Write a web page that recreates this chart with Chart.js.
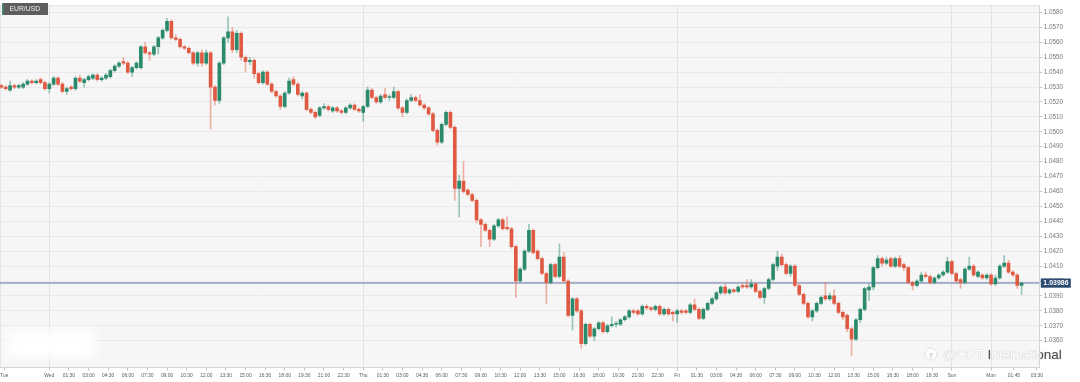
<!DOCTYPE html>
<html>
<head>
<meta charset="utf-8">
<style>
html,body{margin:0;padding:0;background:#fff;}
#wrap{width:1080px;height:382px;position:relative;}
canvas{display:block;}
</style>
<script src="https://cdn.jsdelivr.net/npm/chart.js@4.4.1/dist/chart.umd.min.js"></script>
</head>
<body>
<div id="wrap"><canvas id="c" width="1080" height="382"></canvas></div>
<script>
// ---- Data (EUR/USD, 20-minute candles) ----
const symbol = 'EUR/USD';
const lastPrice = 1.03986;

const openP = [
1.0531,1.0530,1.0528,1.0531,1.0530,1.0530,1.0532,1.0534,1.0533,1.0535,
1.0533,1.0529,1.0532,1.0536,1.0532,1.0527,1.0530,1.0529,1.0536,1.0533,
1.0535,1.0536,1.0538,1.0535,1.0536,1.0537,1.0541,1.0544,1.0547,1.0546,
1.0540,1.0543,1.0543,1.0557,1.0553,1.0552,1.0557,1.0563,1.0568,1.0574,
1.0563,1.0562,1.0557,1.0556,1.0553,1.0546,1.0553,1.0546,1.0553,1.0530,
1.0521,1.0546,1.0563,1.0567,1.0555,1.0566,1.0550,1.0547,1.0548,1.0539,
1.0533,1.0540,1.0532,1.0527,1.0524,1.0517,1.0526,1.0535,1.0532,1.0524,
1.0526,1.0515,1.0513,1.0511,1.0516,1.0517,1.0514,1.0516,1.0514,1.0513,
1.0516,1.0518,1.0515,1.0513,1.0517,1.0528,1.0523,1.0520,1.0525,1.0523,
1.0523,1.0527,1.0516,1.0513,1.0521,1.0523,1.0521,1.0518,1.0516,1.0512,
1.0501,1.0493,1.0505,1.0513,1.0503,1.0462,1.0467,1.0461,1.0458,1.0454,
1.0441,1.0438,1.0434,1.0428,1.0437,1.0441,1.0436,1.0435,1.0423,1.0400,
1.0408,1.0420,1.0434,1.0420,1.0415,1.0405,1.0399,1.0411,1.0403,1.0416,
1.0400,1.0377,1.0388,1.0380,1.0358,1.0371,1.0363,1.0368,1.0372,1.0366,
1.0370,1.0371,1.0371,1.0374,1.0376,1.0380,1.0380,1.0378,1.0383,1.0382,
1.0381,1.0383,1.0378,1.0381,1.0379,1.0378,1.0380,1.0380,1.0379,1.0384,
1.0381,1.0375,1.0381,1.0385,1.0388,1.0392,1.0396,1.0392,1.0394,1.0393,
1.0397,1.0397,1.0396,1.0398,1.0393,1.0389,1.0395,1.0401,1.0410,1.0416,
1.0411,1.0405,1.0410,1.0397,1.0391,1.0385,1.0376,1.0380,1.0385,1.0390,
1.0388,1.0390,1.0385,1.0379,1.0377,1.0368,1.0361,1.0374,1.0381,1.0394,
1.0396,1.0409,1.0415,1.0412,1.0415,1.0410,1.0415,1.0411,1.0409,1.0399,
1.0397,1.0400,1.0404,1.0403,1.0399,1.0402,1.0404,1.0406,1.0413,1.0405,
1.0401,1.0399,1.0408,1.0410,1.0403,1.0404,1.0402,1.0404,1.0398,1.0402,
1.0410,1.0412,1.0406,1.0404,1.0397];

const highP = [
1.0532,1.0531,1.0534,1.0532,1.0532,1.0533,1.0535,1.0535,1.0535,1.0536,
1.0534,1.0533,1.0537,1.0537,1.0533,1.0530,1.0531,1.0537,1.0538,1.0536,
1.0538,1.0539,1.0539,1.0537,1.0539,1.0542,1.0545,1.0547,1.0550,1.0547,
1.0544,1.0547,1.0558,1.0560,1.0554,1.0558,1.0564,1.0569,1.0576,1.0575,
1.0565,1.0563,1.0558,1.0557,1.0554,1.0554,1.0555,1.0555,1.0554,1.0531,
1.0547,1.0564,1.0577,1.0570,1.0568,1.0567,1.0551,1.0550,1.0549,1.0540,
1.0541,1.0541,1.0533,1.0528,1.0525,1.0527,1.0536,1.0537,1.0533,1.0527,
1.0527,1.0516,1.0514,1.0517,1.0519,1.0518,1.0517,1.0517,1.0515,1.0517,
1.0519,1.0519,1.0516,1.0518,1.0530,1.0529,1.0524,1.0525,1.0529,1.0525,
1.0530,1.0528,1.0517,1.0522,1.0525,1.0524,1.0525,1.0519,1.0517,1.0513,
1.0502,1.0506,1.0514,1.0514,1.0504,1.0471,1.0480,1.0462,1.0459,1.0455,
1.0442,1.0439,1.0435,1.0438,1.0442,1.0442,1.0443,1.0436,1.0424,1.0409,
1.0421,1.0438,1.0435,1.0421,1.0416,1.0406,1.0412,1.0412,1.0425,1.0419,
1.0401,1.0389,1.0389,1.0381,1.0372,1.0372,1.0369,1.0373,1.0373,1.0371,
1.0376,1.0373,1.0375,1.0377,1.0381,1.0381,1.0381,1.0384,1.0384,1.0383,
1.0384,1.0384,1.0382,1.0382,1.0380,1.0381,1.0381,1.0381,1.0385,1.0388,
1.0382,1.0382,1.0386,1.0389,1.0393,1.0397,1.0398,1.0395,1.0395,1.0397,
1.0398,1.0401,1.0401,1.0399,1.0394,1.0396,1.0402,1.0412,1.0420,1.0418,
1.0412,1.0411,1.0411,1.0398,1.0392,1.0386,1.0381,1.0386,1.0390,1.0399,
1.0392,1.0394,1.0386,1.0380,1.0378,1.0369,1.0375,1.0382,1.0396,1.0398,
1.0410,1.0417,1.0416,1.0416,1.0416,1.0416,1.0417,1.0412,1.0410,1.0400,
1.0401,1.0406,1.0406,1.0404,1.0403,1.0405,1.0407,1.0416,1.0414,1.0406,
1.0402,1.0409,1.0416,1.0411,1.0407,1.0405,1.0405,1.0405,1.0404,1.0411,
1.0417,1.0414,1.0407,1.0405,1.0399];

const lowP = [
1.0529,1.0528,1.0527,1.0529,1.0529,1.0529,1.0531,1.0532,1.0532,1.0532,
1.0528,1.0526,1.0531,1.0531,1.0526,1.0525,1.0528,1.0528,1.0533,1.0530,
1.0534,1.0535,1.0534,1.0534,1.0535,1.0536,1.0540,1.0543,1.0545,1.0539,
1.0537,1.0542,1.0542,1.0552,1.0548,1.0551,1.0552,1.0562,1.0567,1.0562,
1.0561,1.0556,1.0555,1.0552,1.0545,1.0544,1.0544,1.0545,1.0502,1.0518,
1.0519,1.0545,1.0560,1.0553,1.0553,1.0548,1.0540,1.0545,1.0536,1.0532,
1.0532,1.0531,1.0526,1.0523,1.0515,1.0516,1.0525,1.0531,1.0524,1.0522,
1.0514,1.0512,1.0509,1.0510,1.0515,1.0514,1.0513,1.0513,1.0512,1.0512,
1.0515,1.0514,1.0513,1.0507,1.0516,1.0522,1.0519,1.0519,1.0522,1.0521,
1.0522,1.0515,1.0510,1.0512,1.0520,1.0520,1.0517,1.0515,1.0511,1.0500,
1.0491,1.0492,1.0504,1.0502,1.0454,1.0443,1.0459,1.0457,1.0453,1.0439,
1.0423,1.0433,1.0423,1.0427,1.0436,1.0434,1.0434,1.0422,1.0389,1.0399,
1.0407,1.0419,1.0418,1.0414,1.0404,1.0385,1.0398,1.0402,1.0402,1.0399,
1.0376,1.0367,1.0379,1.0355,1.0357,1.0362,1.0360,1.0367,1.0365,1.0365,
1.0369,1.0369,1.0370,1.0373,1.0375,1.0378,1.0377,1.0377,1.0381,1.0380,
1.0380,1.0377,1.0377,1.0377,1.0373,1.0372,1.0378,1.0378,1.0378,1.0380,
1.0374,1.0374,1.0380,1.0384,1.0387,1.0391,1.0391,1.0391,1.0392,1.0392,
1.0395,1.0395,1.0395,1.0392,1.0388,1.0385,1.0394,1.0400,1.0407,1.0410,
1.0404,1.0403,1.0396,1.0390,1.0384,1.0375,1.0373,1.0379,1.0384,1.0387,
1.0387,1.0384,1.0378,1.0374,1.0366,1.0350,1.0360,1.0372,1.0380,1.0387,
1.0394,1.0408,1.0410,1.0411,1.0409,1.0409,1.0409,1.0407,1.0398,1.0394,
1.0396,1.0399,1.0402,1.0398,1.0398,1.0401,1.0403,1.0405,1.0404,1.0399,
1.0395,1.0398,1.0407,1.0403,1.0402,1.0401,1.0401,1.0397,1.0397,1.0401,
1.0409,1.0405,1.0403,1.0395,1.0391];

const closeP = [
1.0530,1.0529,1.0531,1.0530,1.0531,1.0532,1.0534,1.0533,1.0534,1.0533,
1.0529,1.0532,1.0536,1.0532,1.0527,1.0529,1.0529,1.0536,1.0534,1.0535,
1.0537,1.0538,1.0535,1.0536,1.0538,1.0541,1.0544,1.0546,1.0546,1.0540,
1.0543,1.0546,1.0557,1.0553,1.0552,1.0557,1.0563,1.0568,1.0574,1.0563,
1.0562,1.0557,1.0556,1.0553,1.0546,1.0553,1.0546,1.0553,1.0530,1.0521,
1.0546,1.0563,1.0567,1.0555,1.0566,1.0550,1.0547,1.0548,1.0539,1.0533,
1.0540,1.0532,1.0527,1.0524,1.0517,1.0526,1.0534,1.0532,1.0525,1.0526,
1.0515,1.0513,1.0510,1.0516,1.0517,1.0515,1.0516,1.0514,1.0513,1.0516,
1.0518,1.0515,1.0514,1.0517,1.0528,1.0523,1.0520,1.0524,1.0523,1.05232,
1.0527,1.0516,1.0513,1.0521,1.0523,1.0521,1.0518,1.0516,1.0512,1.0501,
1.0493,1.0505,1.0513,1.0503,1.0462,1.0467,1.0460,1.0458,1.0454,1.0441,
1.0438,1.0434,1.0428,1.0437,1.0441,1.0435,1.0435,1.0423,1.0400,1.0408,
1.0420,1.0434,1.0419,1.0415,1.0405,1.0399,1.0411,1.0403,1.0416,1.0400,
1.0377,1.0388,1.0380,1.0358,1.0371,1.0363,1.0368,1.0372,1.0366,1.0370,
1.0371,1.03712,1.0374,1.0376,1.0380,1.0379,1.0378,1.0383,1.0382,1.0381,
1.0383,1.0378,1.0381,1.0378,1.0378,1.0380,1.0379,1.0379,1.0384,1.0381,
1.0375,1.0381,1.0385,1.0388,1.0392,1.0396,1.0392,1.0394,1.0393,1.0396,
1.0396,1.0396,1.0398,1.0393,1.0389,1.0395,1.0401,1.0411,1.0416,1.0411,
1.0405,1.0410,1.0397,1.0391,1.0385,1.0376,1.0380,1.0385,1.0389,1.0388,
1.0390,1.0385,1.0379,1.0376,1.0368,1.0361,1.0374,1.0381,1.0395,1.0396,
1.0409,1.0415,1.0412,1.0414,1.0410,1.0415,1.0410,1.0409,1.0399,1.0397,
1.0400,1.0404,1.0403,1.0399,1.0402,1.0404,1.0406,1.0413,1.0405,1.0400,
1.0399,1.0408,1.0410,1.0404,1.0406,1.0402,1.0404,1.0398,1.0402,1.0410,
1.0412,1.0406,1.0404,1.0397,1.03986];

// price axis ticks
const yTicks = [1.0360,1.0370,1.0380,1.0390,1.0400,1.0410,1.0420,1.0430,1.0440,1.0450,1.0460,
                1.0470,1.0480,1.0490,1.0500,1.0510,1.0520,1.0530,1.0540,1.0550,1.0560,1.0570,1.0580];

// time axis ticks: candle-slot position and label
const xTickIndex = [0.7, 11, 15.5, 20, 24.5, 29, 33.5, 38, 42.5, 47, 51.5, 56, 60.5, 65, 69.5, 74, 78.5,
  83, 87.5, 92, 96.5, 101, 105.5, 110, 114.5, 119, 123.5, 128, 132.5, 137, 141.5, 146, 150.5,
  155, 159.5, 164, 168.5, 173, 177.5, 182, 186.5, 191, 195.5, 200, 204.5, 209, 213.5,
  218, 227, 232.25, 237.5];
const xTickLabels = ['Tue','Wed','01:30','03:00','04:30','06:00','07:30','09:00','10:30','12:00','13:30','15:00','16:30','18:00','19:30','21:00','22:30',
  'Thu','01:30','03:00','04:30','06:00','07:30','09:00','10:30','12:00','13:30','15:00','16:30','18:00','19:30','21:00','22:30',
  'Fri','01:30','03:00','04:30','06:00','07:30','09:00','10:30','12:00','13:30','15:00','16:30','18:00','19:30',
  'Sun','Mon','01:45','03:30'];
const dayLabels = ['Wed','Thu','Fri','Sun','Mon'];
const watermark = '@CPT International';

// ---- styles ----
const GREEN = '#2b8a6c';
const RED = '#e05a43';
const GREEN_WICK = 'rgba(43,138,108,0.45)';
const RED_WICK = 'rgba(224,90,67,0.45)';
const FONT = '"Liberation Sans", Arial, sans-serif';

const idx = openP.map((_, i) => i);
const up = idx.map(i => closeP[i] >= openP[i]);
const bodyData = idx.map(i => ({x: i, y: [openP[i], closeP[i]]}));
const wickData = idx.map(i => ({x: i, y: [lowP[i], highP[i]]}));

const decor = {
  id: 'decor',
  beforeDraw(chart) {
    const {ctx, chartArea: a, width, height} = chart;
    ctx.save();
    ctx.fillStyle = '#ffffff';
    ctx.fillRect(0, 0, width, height);
    ctx.fillStyle = '#f6f6f6';
    ctx.fillRect(a.left, a.top, a.right - a.left, a.bottom - a.top);
    ctx.restore();
  },
  beforeDatasetsDraw(chart) {
    const {ctx, chartArea: a, scales} = chart;
    const py = scales.y.getPixelForValue(lastPrice);
    ctx.save();
    ctx.strokeStyle = '#e4e4e6';
    ctx.lineWidth = 1;
    ctx.beginPath();
    ctx.moveTo(a.left + 0.5, a.bottom);
    ctx.lineTo(a.left + 0.5, a.top + 0.5);
    ctx.lineTo(a.right, a.top + 0.5);
    ctx.stroke();
    ctx.strokeStyle = '#a9b3c7';
    ctx.lineWidth = 2;
    ctx.beginPath();
    ctx.moveTo(a.left, py);
    ctx.lineTo(a.right, py);
    ctx.stroke();
    ctx.restore();
  },
  afterDraw(chart) {
    const {ctx, chartArea: a, scales, width, height} = chart;
    ctx.save();
    // blurred patch bottom-left
    ctx.filter = 'blur(6px)';
    ctx.fillStyle = 'rgba(255,255,255,0.95)';
    ctx.fillRect(6, 330, 90, 28);
    ctx.filter = 'none';

    // watermark
    const wx = 943, wy = 359;
    ctx.font = '13.5px ' + FONT;
    ctx.textBaseline = 'alphabetic';
    ctx.textAlign = 'left';
    ctx.lineWidth = 0.7;
    ctx.strokeStyle = 'rgba(185,185,185,0.55)';
    ctx.fillStyle = 'rgba(255,255,255,0.9)';
    ctx.beginPath();
    ctx.arc(931, 354, 6, 0, Math.PI * 2);
    ctx.fill(); ctx.stroke();
    ctx.strokeStyle = 'rgba(185,185,185,0.6)';
    ctx.font = 'bold 8px ' + FONT;
    ctx.strokeText('f', 929.5, 358);
    ctx.font = '13.5px ' + FONT;
    ctx.strokeText(watermark, wx, wy);
    ctx.fillText(watermark, wx, wy);
    // the part over the white axis band shows dark
    ctx.save();
    ctx.beginPath();
    ctx.rect(a.right + 1, 0, width - a.right, height);
    ctx.clip();
    ctx.fillStyle = '#4a4a4a';
    ctx.fillText(watermark, wx, wy);
    ctx.restore();
    // the capital I shows dark
    const pre = ctx.measureText('@CPT ').width;
    ctx.fillStyle = '#555';
    ctx.fillText('I', wx + pre, wy);

    // symbol box
    ctx.fillStyle = '#5d5d5d';
    ctx.fillRect(2, 3, 46, 12);
    ctx.fillStyle = '#3f8f7b';
    ctx.fillRect(2, 3, 1.5, 12);
    ctx.fillStyle = '#f2f2f2';
    ctx.font = '6.8px ' + FONT;
    ctx.textBaseline = 'middle';
    ctx.fillText(symbol, 9.5, 9.3);

    // last price label
    const py = scales.y.getPixelForValue(lastPrice);
    ctx.fillStyle = '#2b4a70';
    ctx.fillRect(a.right + 1.5, py - 4.6, 30, 9.2);
    ctx.fillStyle = '#ffffff';
    ctx.font = 'bold 7px ' + FONT;
    ctx.textAlign = 'left';
    ctx.fillText(lastPrice.toFixed(5), a.right + 4, py + 0.3);
    ctx.restore();
  }
};

new Chart(document.getElementById('c').getContext('2d'), {
  type: 'bar',
  data: {
    datasets: [
      { data: bodyData, backgroundColor: up.map(u => u ? GREEN : RED), borderWidth: 0,
        barThickness: 3, grouped: false, minBarLength: 1 },
      { data: wickData, backgroundColor: up.map(u => u ? GREEN_WICK : RED_WICK), borderWidth: 0,
        barThickness: 1, grouped: false }
    ]
  },
  options: {
    responsive: false,
    maintainAspectRatio: false,
    animation: false,
    devicePixelRatio: 1,
    layout: { padding: 0 },
    plugins: { legend: { display: false }, tooltip: { enabled: false } },
    scales: {
      x: {
        type: 'linear',
        min: -0.307, max: 238.06,
        offset: false,
        afterBuildTicks: s => { s.ticks = xTickIndex.map(v => ({ value: v })); },
        afterFit: s => { s.height = 14.5; s.paddingLeft = 0; s.paddingRight = 0; },
        ticks: {
          autoSkip: false, maxRotation: 0, minRotation: 0, padding: 2,
          color: '#5a5a5a',
          font: { size: 4.9, family: FONT },
          callback: (v, i) => xTickLabels[i]
        },
        grid: {
          offset: false,
          color: c => (c.tick && dayLabels.includes(xTickLabels[c.index])) ? '#e2e2e4' : 'rgba(0,0,0,0)',
          tickColor: '#c4c4c4',
          tickLength: 3,
          lineWidth: 1
        },
        border: { color: '#d6d6da' }
      },
      y: {
        position: 'right',
        min: 1.034202, max: 1.058482,
        beginAtZero: false,
        afterBuildTicks: s => { s.ticks = yTicks.map(v => ({ value: v })); },
        afterFit: s => { s.width = 40.7; },
        ticks: {
          padding: 1.5,
          color: '#777777',
          font: { size: 6.3, family: FONT },
          callback: v => v.toFixed(4)
        },
        grid: { color: '#e9e9eb', tickColor: '#c8c8cc', tickLength: 3, lineWidth: 1 },
        border: { color: '#cfd3dc' }
      }
    }
  },
  plugins: [decor]
});
</script>
</body>
</html>
